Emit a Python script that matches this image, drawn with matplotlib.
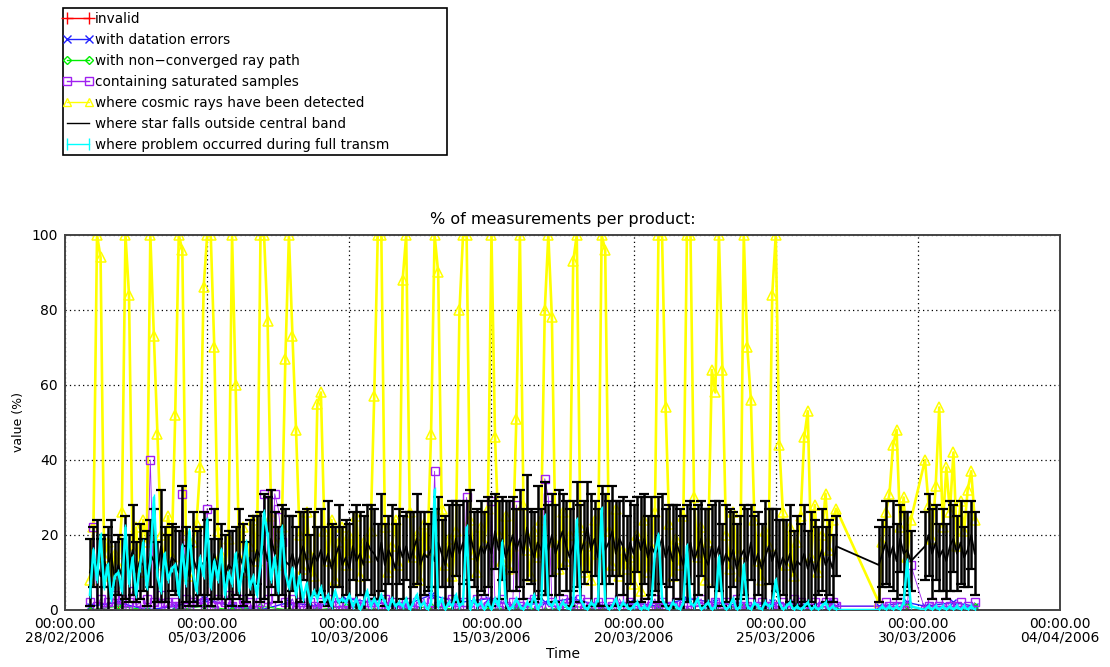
import numpy as np
import pandas as pd
import matplotlib
matplotlib.use('Agg')
import matplotlib.pyplot as plt
import matplotlib.dates as mdates
from matplotlib.lines import Line2D
from matplotlib.patches import Rectangle

# product times, hours after 28/02/2006 00:00
t_hours = [
    21, 24, 27, 30, 33, 36, 39, 42,
    45, 48, 51, 54, 57, 60, 63, 66,
    69, 72, 75, 78, 81, 84, 87, 90,
    93, 96, 99, 102, 105, 108, 111, 114,
    117, 120, 123, 126, 129, 132, 135, 138,
    141, 144, 147, 150, 153, 156, 159, 162,
    165, 168, 171, 174, 177, 180, 183, 186,
    189, 192, 195, 198, 201, 204, 207, 210,
    213, 216, 219, 222, 225, 228, 231, 234,
    237, 240, 243, 246, 249, 252, 255, 258,
    261, 264, 267, 270, 273, 276, 279, 282,
    285, 288, 291, 294, 297, 300, 303, 306,
    309, 312, 315, 318, 321, 324, 327, 330,
    333, 336, 339, 342, 345, 348, 351, 354,
    357, 360, 363, 366, 369, 372, 375, 378,
    381, 384, 387, 390, 393, 396, 399, 402,
    405, 408, 411, 414, 417, 420, 423, 426,
    429, 432, 435, 438, 441, 444, 447, 450,
    453, 456, 459, 462, 465, 468, 471, 474,
    477, 480, 483, 486, 489, 492, 495, 498,
    501, 504, 507, 510, 513, 516, 519, 522,
    525, 528, 531, 534, 537, 540, 543, 546,
    549, 552, 555, 558, 561, 564, 567, 570,
    573, 576, 579, 582, 585, 588, 591, 594,
    597, 600, 603, 606, 609, 612, 615, 618,
    621, 624, 627, 630, 633, 636, 639, 642,
    645, 648, 651,
    687, 690, 693, 696, 699, 702, 705, 708, 711, 714,
    726, 729, 732, 735, 738, 741, 744, 747, 750, 753, 756, 759, 762, 765, 768,
]

cosmic = [
    8, 22, 100, 94, 14, 18, 9, 15,
    12, 26, 100, 84, 16, 22, 10, 24,
    18, 100, 73, 47, 20, 12, 25, 14,
    52, 100, 96, 20, 9, 18, 23, 38,
    86, 100, 100, 70, 21, 15, 11, 19,
    100, 60, 14, 22, 10, 17, 24, 13,
    100, 100, 77, 25, 18, 12, 22, 67,
    100, 73, 48, 20, 11, 26, 15, 9,
    55, 58, 21, 13, 24, 8, 18, 22,
    12, 20, 16, 25, 9, 18, 14, 21,
    57, 100, 100, 22, 10, 17, 24, 12,
    88, 100, 26, 14, 20, 8, 23, 16,
    47, 100, 90, 27, 12, 19, 9, 21,
    80, 100, 100, 24, 15, 10, 22, 18,
    27, 100, 46, 20, 13, 25, 11, 17,
    51, 100, 28, 16, 9, 21, 14, 24,
    80, 100, 78, 18, 11, 26, 13, 20,
    93, 100, 22, 10, 17, 8, 24, 15,
    100, 96, 21, 12, 27, 9, 16, 11,
    14, 7, 20, 5, 24, 10, 17, 26,
    100, 100, 54, 23, 9, 19, 12, 25,
    100, 100, 30, 14, 22, 8, 18, 64,
    58, 100, 64, 20, 11, 26, 15, 9,
    100, 70, 56, 24, 13, 8, 21, 17,
    84, 100, 44, 26, 12, 22, 9, 18,
    25, 46, 53, 14, 28, 10, 20, 31,
    16, 24, 27,
    2, 18, 26, 31, 44, 48, 22, 30, 14, 24,
    40, 28, 19, 33, 54, 22, 38, 26, 42, 17, 29, 21, 32, 37, 24,
]

star = [
    10, 14, 12, 9, 13, 11, 15, 8,
    12, 9, 14, 11, 16, 10, 13, 12,
    11, 15, 13, 10, 17, 12, 9, 14,
    13, 10, 16, 12, 9, 14, 11, 13,
    12, 14, 10, 15, 11, 13, 9, 12,
    11, 13, 15, 12, 10, 14, 12, 16,
    14, 17, 13, 19, 15, 12, 16, 13,
    12, 15, 11, 14, 17, 13, 10, 15,
    13, 16, 12, 15, 11, 14, 17, 12,
    14, 11, 17, 13, 15, 12, 18, 16,
    15, 13, 18, 12, 16, 14, 11, 17,
    14, 17, 13, 16, 19, 12, 15, 14,
    16, 13, 18, 15, 12, 17, 14, 19,
    15, 18, 14, 20, 16, 13, 17, 15,
    18, 15, 21, 16, 19, 14, 17, 20,
    16, 19, 15, 22, 17, 14, 18, 16,
    19, 16, 20, 15, 18, 21, 17, 14,
    17, 20, 15, 18, 22, 16, 19, 14,
    20, 16, 18, 21, 15, 19, 17, 13,
    18, 15, 20, 16, 19, 14, 17, 15,
    16, 19, 14, 17, 13, 18, 15, 12,
    15, 18, 13, 16, 19, 14, 12, 17,
    14, 17, 12, 15, 13, 16, 11, 14,
    16, 13, 18, 12, 15, 11, 14, 17,
    13, 16, 11, 14, 12, 15, 10, 13,
    12, 15, 11, 14, 10, 13, 16, 12,
    14, 11, 17,
    12, 15, 18, 14, 17, 13, 19, 15, 16, 13,
    17, 20, 15, 18, 14, 16, 13, 17, 19, 15, 18, 14, 16, 20, 15,
]

star_err = [
    9, 8, 12, 10, 7, 11, 9, 10,
    8, 10, 11, 9, 12, 8, 10, 7,
    10, 9, 14, 8, 15, 10, 11, 9,
    9, 11, 17, 10, 8, 12, 10, 9,
    14, 10, 9, 12, 8, 10, 11, 9,
    10, 9, 12, 11, 8, 10, 13, 9,
    12, 14, 17, 13, 11, 10, 12, 14,
    13, 10, 11, 12, 9, 14, 10, 11,
    9, 11, 10, 14, 12, 8, 11, 10,
    10, 12, 9, 15, 11, 13, 10, 12,
    12, 10, 13, 11, 9, 14, 12, 10,
    11, 9, 13, 10, 12, 14, 11, 9,
    10, 14, 12, 9, 13, 11, 15, 10,
    13, 11, 15, 12, 10, 14, 12, 11,
    12, 14, 10, 13, 11, 15, 12, 10,
    11, 13, 12, 14, 10, 12, 15, 11,
    15, 12, 11, 13, 14, 10, 12, 13,
    12, 14, 13, 11, 12, 15, 10, 13,
    13, 15, 11, 12, 14, 10, 13, 12,
    11, 13, 10, 14, 12, 11, 13, 10,
    14, 12, 13, 11, 15, 10, 12, 13,
    13, 11, 14, 12, 10, 13, 15, 11,
    15, 12, 11, 13, 14, 10, 12, 11,
    12, 14, 10, 13, 11, 12, 15, 10,
    14, 11, 13, 10, 12, 13, 11, 12,
    11, 13, 10, 12, 14, 9, 11, 10,
    10, 9, 8,
    10, 9, 11, 8, 12, 10, 9, 11, 10, 8,
    9, 11, 12, 10, 9, 11, 10, 12, 9, 10, 11, 8, 10, 9, 11,
]

transm = [
    4, 16, 8, 20, 6, 12, 3, 9,
    10, 5, 22, 7, 14, 4, 11, 18,
    6, 13, 30, 9, 5, 15, 8, 11,
    12, 4, 17, 7, 21, 10, 5, 14,
    9, 24, 6, 13, 8, 16, 4, 10,
    7, 15, 5, 11, 18, 6, 9, 4,
    12, 26, 20, 8, 14, 5, 22, 10,
    6, 11, 4, 9, 3, 7, 2, 5,
    3, 6, 2, 4, 1, 5, 2, 3,
    2, 4, 1, 3, 0, 2, 5, 1,
    3, 1, 4, 2, 0, 3, 1, 2,
    1, 3, 0, 2, 4, 1, 2, 0,
    2, 32, 1, 3, 0, 2, 1, 4,
    1, 2, 22, 0, 3, 1, 2, 0,
    2, 0, 3, 1, 18, 2, 0, 1,
    3, 1, 0, 2, 1, 4, 0, 2,
    25, 2, 1, 3, 0, 2, 1, 0,
    2, 24, 3, 1, 0, 2, 1, 3,
    27, 2, 0, 1, 3, 0, 2, 1,
    0, 1, 2, 0, 1, 0, 2, 15,
    20, 3, 1, 0, 2, 1, 0, 2,
    17, 2, 1, 3, 0, 1, 2, 0,
    1, 14, 2, 0, 1, 3, 0, 1,
    12, 1, 0, 2, 1, 0, 2, 1,
    1, 8, 2, 0, 1, 2, 0, 1,
    0, 1, 2, 0, 1, 0, 1, 2,
    0, 1, 0,
    0, 1, 0, 1, 0, 1, 0, 2, 13, 1,
    0, 1, 0, 1, 0, 1, 0, 1, 0, 1, 0, 1, 0, 1, 0,
]

saturated = [
    2, 22, 1, 3, 0, 2, 1, 4,
    1, 3, 0, 2, 5, 1, 2, 0,
    3, 40, 2, 1, 4, 0, 2, 1,
    2, 1, 31, 3, 0, 2, 1, 3,
    2, 27, 1, 0, 3, 1, 2, 4,
    1, 2, 0, 3, 1, 2, 0, 1,
    2, 31, 3, 1, 31, 27, 18, 2,
    1, 3, 0, 2, 1, 0, 2, 1,
    0, 2, 1, 3, 0, 1, 2, 0,
    1, 0, 2, 1, 3, 0, 1, 2,
    2, 1, 0, 3, 1, 2, 0, 1,
    0, 2, 1, 0, 2, 1, 3, 0,
    2, 37, 1, 0, 2, 1, 3, 0,
    1, 2, 30, 0, 1, 3, 0, 2,
    1, 29, 2, 0, 3, 1, 0, 2,
    28, 1, 0, 2, 1, 3, 0, 1,
    35, 30, 2, 1, 0, 3, 1, 2,
    0, 1, 3, 0, 2, 1, 0, 2,
    1, 0, 2, 1, 0, 3, 1, 0,
    2, 1, 0, 1, 2, 0, 1, 3,
    0, 2, 1, 0, 1, 2, 0, 1,
    1, 0, 2, 1, 3, 0, 1, 0,
    2, 1, 0, 2, 1, 0, 3, 1,
    0, 1, 2, 0, 1, 2, 0, 1,
    1, 0, 1, 2, 0, 1, 3, 0,
    2, 1, 0, 1, 2, 0, 1, 2,
    0, 2, 1,
    1, 0, 2, 1, 0, 1, 2, 0, 1, 12,
    0, 1, 2, 0, 1, 0, 2, 1, 0, 1, 2, 0, 1, 0, 2,
]

# the three nearly empty flags, sampled once a day
minor_hours = [21, 45, 69, 93, 117, 141, 165, 189, 213, 237, 261, 285, 309, 333,
               357, 381, 405, 429, 453, 477, 501, 525, 549, 573, 597, 621, 645,
               651, 687, 711, 726, 750, 768]
datation = [1, 2, 0, 1, 3, 1, 0, 2, 1, 3, 2, 1, 4, 2, 3, 1, 2, 3, 1, 2, 1, 3,
            2, 1, 2, 1, 2, 1, 1, 2, 1, 2, 1]
nonconv = [0, 1, 0, 0, 1, 0, 1, 0, 0, 1, 0, 0, 1, 0, 0, 1, 0, 1, 0, 0, 1, 0,
           0, 1, 0, 0, 1, 0, 0, 1, 0, 0, 1]
invalid = [0, 0, 0, 0, 0, 0, 0, 0, 0, 0, 0, 0, 0, 0, 0, 0, 0, 0, 0, 0, 0, 0,
           0, 0, 0, 0, 0, 0, 0, 0, 0, 0, 0]

labels = ['invalid', 'with datation errors', 'with non\u2212converged ray path',
          'containing saturated samples', 'where cosmic rays have been detected',
          'where star falls outside central band',
          'where problem occurred during full transm']

start = pd.Timestamp('2006-02-28')
t = mdates.date2num((start + pd.to_timedelta(t_hours, unit='h')).to_pydatetime())
tm = mdates.date2num((start + pd.to_timedelta(minor_hours, unit='h')).to_pydatetime())

RED, BLUE, GREEN = '#ff0000', '#2222ff', '#00ee00'
PURPLE, YELLOW, CYAN = '#a020f0', '#ffff00', '#00ffff'

fig = plt.figure(figsize=(11.1, 6.67), dpi=100)
ax = fig.add_axes([0.0586, 0.0855, 0.8964, 0.5622])

ax.plot(tm, invalid, color=RED, marker='+', ms=6, lw=0.8, zorder=2.0)
ax.plot(tm, datation, color=BLUE, marker='x', ms=4, lw=1.0, zorder=2.1)
ax.plot(tm, nonconv, color=GREEN, marker='D', ms=3, mfc='none', lw=0.8, zorder=2.2)
ax.plot(t, cosmic, color=YELLOW, marker='^', ms=6.5, mfc='none', mew=1.1, lw=1.9,
        zorder=2.3)
ax.plot(t, saturated, color=PURPLE, marker='s', ms=5.5, mfc='none', mew=1.0, lw=0.6,
        zorder=2.4)
ax.errorbar(t, star, yerr=star_err, color='black', lw=1.3, elinewidth=1.8,
            capsize=3.5, capthick=1.6, zorder=2.5)
ax.plot(t, transm, color=CYAN, marker='|', ms=4, lw=1.8, zorder=2.6)

ax.set_xlim(mdates.date2num(pd.Timestamp('2006-02-28').to_pydatetime()),
            mdates.date2num(pd.Timestamp('2006-04-04').to_pydatetime()))
ax.set_ylim(0, 100)
tick_days = pd.date_range('2006-02-28', '2006-04-04', freq='5D')
ax.set_xticks(mdates.date2num(tick_days.to_pydatetime()))
ax.xaxis.set_major_formatter(mdates.DateFormatter('%H:%M.%S\n%d/%m/%Y'))
ax.set_yticks([0, 20, 40, 60, 80, 100])
ax.tick_params(length=0, labelsize=10, pad=5)
for lab in ax.get_xticklabels():
    lab.set_linespacing(0.95)

ax.grid(True, color='black', linestyle=(0, (1, 2.5)), linewidth=0.9)
for sp in ax.spines.values():
    sp.set_color('#444444')
    sp.set_linewidth(1.4)

ax.set_title('% of measurements per product:', fontsize=11.5, pad=8)
ax.set_xlabel('Time', fontsize=10, labelpad=2)
ax.set_ylabel('value (%)', fontsize=9, labelpad=5)

# legend box sits above the plot, in figure coordinates
fig.patches.append(Rectangle((0.0568, 0.7676), 0.3459, 0.2204, transform=fig.transFigure,
                             fill=False, edgecolor='black', linewidth=1.2))
handles = [
    Line2D([], [], color=RED, marker='+', ms=8, lw=1),
    Line2D([], [], color=BLUE, marker='x', ms=6, lw=1),
    Line2D([], [], color=GREEN, marker='D', ms=4, mfc='none', lw=1),
    Line2D([], [], color=PURPLE, marker='s', ms=6, mfc='none', lw=1),
    Line2D([], [], color=YELLOW, marker='^', ms=6, mfc='none', lw=1),
    Line2D([], [], color='black', lw=1),
    Line2D([], [], color=CYAN, marker='|', ms=8, lw=1),
]
fig.legend(handles, labels, loc='upper left', bbox_to_anchor=(0.0545, 0.986),
           frameon=False, fontsize=9.8, numpoints=2, handlelength=2.2,
           handletextpad=0.1, labelspacing=0.51, borderpad=0.2, borderaxespad=0)

fig.savefig('out.png', dpi=100)
